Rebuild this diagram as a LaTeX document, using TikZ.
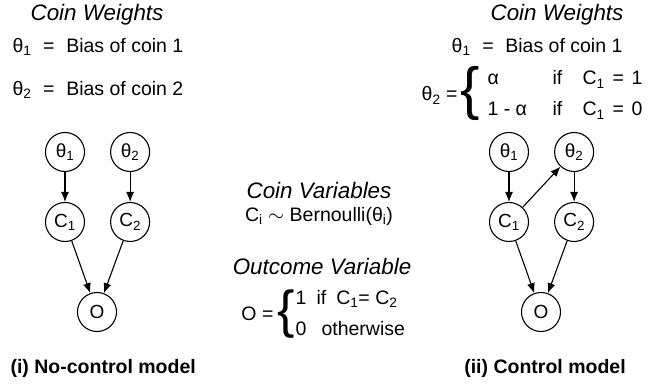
\documentclass[tikz,border=0pt]{standalone}
\usepackage{fontspec}
\setmainfont{Liberation Sans}
\usepackage{tikz}
\usetikzlibrary{arrows.meta,positioning}

\begin{document}
\begin{tikzpicture}[x=1pt,y=-1pt,>={Latex[length=10pt,width=8pt]},line width=1.1pt,node distance=70pt,
  var/.style={circle,draw,minimum size=39pt,inner sep=0pt,font=\fontsize{19}{22}\selectfont},
  head/.style={font=\fontsize{22.4}{26}\selectfont\itshape},
  txt/.style={font=\fontsize{19.5}{22}\selectfont,inner sep=0pt},
  bigbrace/.style={inner sep=0pt,font=\fontsize{#1}{#1}\selectfont},
  caption/.style={font=\fontsize{19.5}{22}\selectfont\bfseries,inner sep=0pt}]
  \useasboundingbox (0,0) rectangle (662,385);

  % no-control model
  \node[head] (lhead) at (97,15) {Coin Weights};
  \node[txt,anchor=west] (lth1) at (12,47) {θ\textsubscript{1}\hspace{0.6em}=\hspace{0.6em}Bias of coin 1};
  \node[txt,anchor=west] (lth2) at (12,90) {θ\textsubscript{2}\hspace{0.6em}=\hspace{0.6em}Bias of coin 2};

  \node[var] (t1) at (65,152) {θ\textsubscript{1}};
  \node[var] [right=25pt of t1] (t2) {θ\textsubscript{2}};
  \node[var] [below of=t1] (c1) {C\textsubscript{1}};
  \node[var] [below of=t2] (c2) {C\textsubscript{2}};
  \node[var] (o) at (97,312) {O};
  \path[->]
  (t1) edge (c1)
  (t2) edge (c2)
  (c1) edge (o)
  (c2) edge (o);

  \node[caption,anchor=west] (lcap) at (10,368) {(i) No-control model};

  % shared definitions
  \node[head] (vhead) at (319,190) {Coin Variables};
  \node[txt] (cdist) at (319,216) {C\textsubscript{i} $\sim$ Bernoulli(θ\textsubscript{i})};
  \node[head] (ohead) at (322,266) {Outcome Variable};
  \node[txt,anchor=base east] (oeq) at (274,320) {O =};
  \node[bigbrace=52] (obrace) at (286,314) {\{};
  \node[txt,anchor=base west] (orow1) at (295,304) {\makebox[21pt][l]{1}if\hspace{10pt}C\textsubscript{1}= C\textsubscript{2}};
  \node[txt,anchor=base west] (orow2) at (295,335) {\makebox[26pt][l]{0}otherwise};

  % control model
  \node[head] (rhead) at (557,15) {Coin Weights};
  \node[txt,anchor=east] (rth1) at (623,47) {θ\textsubscript{1}\hspace{0.6em}=\hspace{0.6em}Bias of coin 1};
  \node[txt,anchor=base east] (rth2) at (458,101) {θ\textsubscript{2} =};
  \node[bigbrace=58] (rbrace) at (470,94) {\{};
  \node[txt,anchor=base west] (rrow1) at (487,85) {\makebox[65pt][l]{α}\makebox[30pt][l]{if}C\textsubscript{1}\hspace{0.4em}=\hspace{0.4em}1};
  \node[txt,anchor=base west] (rrow2) at (487,116) {\makebox[65pt][l]{1 - α}\makebox[30pt][l]{if}C\textsubscript{1}\hspace{0.4em}=\hspace{0.4em}0};

  \node[var] (rt1) at (509,152) {θ\textsubscript{1}};
  \node[var] [right=25pt of rt1] (rt2) {θ\textsubscript{2}};
  \node[var] [below of=rt1] (rc1) {C\textsubscript{1}};
  \node[var] [below of=rt2] (rc2) {C\textsubscript{2}};
  \node[var] (ro) at (541,312) {O};
  \path[->]
  (rt1) edge (rc1)
  (rc1) edge (rt2)
  (rt2) edge (rc2)
  (rc1) edge (ro)
  (rc2) edge (ro);

  \node[caption] (rcap) at (545,368) {(ii) Control model};
\end{tikzpicture}
\end{document}
